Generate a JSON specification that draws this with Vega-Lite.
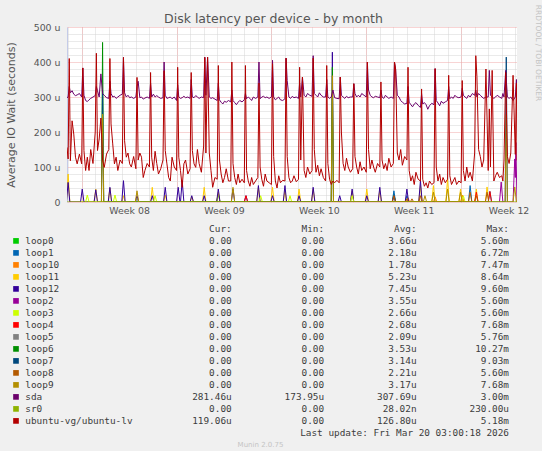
{
"$schema": "https://vega.github.io/schema/vega-lite/v6.json",
"background": "#f0f0f0",
"padding": {"left": 5, "top": 4, "right": 0, "bottom": 0},
"spacing": 0,
"config": {"view": {"stroke": null}, "font": "DejaVu Sans"},
"resolve": {"scale": {"x": "independent", "y": "independent", "color": "shared"}},
"datasets": {
"main": [
{"t":"2026-02-14T22:00Z","sda":298,"lv":156},
{"t":"2026-02-15T00:00Z","sda":300,"lv":123},{"t":"2026-02-15T02:00Z","sda":330,"lv":410},{"t":"2026-02-15T04:00Z","sda":312,"lv":118},{"t":"2026-02-15T07:00Z","sda":318,"lv":232},{"t":"2026-02-15T10:00Z","sda":308,"lv":194},{"t":"2026-02-15T13:00Z","sda":304,"lv":128},{"t":"2026-02-15T16:00Z","sda":306,"lv":109},{"t":"2026-02-15T20:00Z","sda":310,"lv":137},
{"t":"2026-02-16T00:00Z","sda":300,"lv":109},{"t":"2026-02-16T02:00Z","sda":383,"lv":383},{"t":"2026-02-16T04:00Z","sda":305,"lv":147},{"t":"2026-02-16T07:00Z","sda":290,"lv":90},{"t":"2026-02-16T10:00Z","sda":287,"lv":128},{"t":"2026-02-16T13:00Z","sda":292,"lv":90},{"t":"2026-02-16T16:00Z","sda":296,"lv":150},{"t":"2026-02-16T20:00Z","sda":300,"lv":110},
{"t":"2026-02-17T00:00Z","sda":304,"lv":200},{"t":"2026-02-17T02:00Z","sda":330,"lv":425},{"t":"2026-02-17T04:00Z","sda":318,"lv":147},{"t":"2026-02-17T07:00Z","sda":300,"lv":180},{"t":"2026-02-17T10:00Z","sda":366,"lv":240},{"t":"2026-02-17T13:00Z","sda":310,"lv":120},{"t":"2026-02-17T16:00Z","sda":305,"lv":99},{"t":"2026-02-17T20:00Z","sda":298,"lv":137},
{"t":"2026-02-18T00:00Z","sda":296,"lv":150},{"t":"2026-02-18T02:00Z","sda":345,"lv":410},{"t":"2026-02-18T04:00Z","sda":310,"lv":223},{"t":"2026-02-18T07:00Z","sda":300,"lv":166},{"t":"2026-02-18T10:00Z","sda":302,"lv":109},{"t":"2026-02-18T13:00Z","sda":296,"lv":128},{"t":"2026-02-18T16:00Z","sda":300,"lv":90},{"t":"2026-02-18T20:00Z","sda":305,"lv":120},
{"t":"2026-02-19T00:00Z","sda":308,"lv":110},{"t":"2026-02-19T02:00Z","sda":413,"lv":413},{"t":"2026-02-19T04:00Z","sda":312,"lv":175},{"t":"2026-02-19T07:00Z","sda":300,"lv":128},{"t":"2026-02-19T10:00Z","sda":305,"lv":140},{"t":"2026-02-19T13:00Z","sda":298,"lv":109},{"t":"2026-02-19T16:00Z","sda":300,"lv":100},{"t":"2026-02-19T20:00Z","sda":296,"lv":130},
{"t":"2026-02-20T00:00Z","sda":300,"lv":95},{"t":"2026-02-20T02:00Z","sda":330,"lv":356},{"t":"2026-02-20T04:00Z","sda":345,"lv":120},{"t":"2026-02-20T07:00Z","sda":298,"lv":140},{"t":"2026-02-20T10:00Z","sda":300,"lv":128},{"t":"2026-02-20T13:00Z","sda":294,"lv":70},{"t":"2026-02-20T16:00Z","sda":297,"lv":90},{"t":"2026-02-20T20:00Z","sda":300,"lv":110},
{"t":"2026-02-21T00:00Z","sda":296,"lv":100},{"t":"2026-02-21T02:00Z","sda":340,"lv":370},{"t":"2026-02-21T04:00Z","sda":300,"lv":128},{"t":"2026-02-21T07:00Z","sda":308,"lv":90},{"t":"2026-02-21T10:00Z","sda":300,"lv":145},{"t":"2026-02-21T13:00Z","sda":304,"lv":110},{"t":"2026-02-21T16:00Z","sda":300,"lv":80},{"t":"2026-02-21T20:00Z","sda":296,"lv":95},
{"t":"2026-02-22T00:00Z","sda":298,"lv":120},{"t":"2026-02-22T02:00Z","sda":400,"lv":375},{"t":"2026-02-22T04:00Z","sda":305,"lv":147},{"t":"2026-02-22T07:00Z","sda":296,"lv":109},{"t":"2026-02-22T10:00Z","sda":298,"lv":70},{"t":"2026-02-22T13:00Z","sda":300,"lv":60},{"t":"2026-02-22T16:00Z","sda":295,"lv":128},{"t":"2026-02-22T20:00Z","sda":300,"lv":100},
{"t":"2026-02-23T00:00Z","sda":290,"lv":90},{"t":"2026-02-23T02:00Z","sda":335,"lv":385},{"t":"2026-02-23T04:00Z","sda":300,"lv":128},{"t":"2026-02-23T07:00Z","sda":296,"lv":90},{"t":"2026-02-23T10:00Z","sda":298,"lv":42},{"t":"2026-02-23T13:00Z","sda":302,"lv":109},{"t":"2026-02-23T16:00Z","sda":298,"lv":120},{"t":"2026-02-23T20:00Z","sda":300,"lv":80},
{"t":"2026-02-24T00:00Z","sda":296,"lv":95},{"t":"2026-02-24T02:00Z","sda":350,"lv":370},{"t":"2026-02-24T04:00Z","sda":300,"lv":147},{"t":"2026-02-24T07:00Z","sda":298,"lv":109},{"t":"2026-02-24T10:00Z","sda":304,"lv":99},{"t":"2026-02-24T13:00Z","sda":300,"lv":150},{"t":"2026-02-24T16:00Z","sda":296,"lv":110},{"t":"2026-02-24T20:00Z","sda":300,"lv":85},
{"t":"2026-02-25T00:00Z","sda":298,"lv":160},{"t":"2026-02-25T02:00Z","sda":414,"lv":413},{"t":"2026-02-25T04:00Z","sda":305,"lv":140},{"t":"2026-02-25T07:00Z","sda":414,"lv":414},{"t":"2026-02-25T10:00Z","sda":300,"lv":140},{"t":"2026-02-25T13:00Z","sda":296,"lv":90},{"t":"2026-02-25T16:00Z","sda":298,"lv":42},{"t":"2026-02-25T20:00Z","sda":294,"lv":70},
{"t":"2026-02-26T00:00Z","sda":290,"lv":65},{"t":"2026-02-26T02:00Z","sda":340,"lv":390},{"t":"2026-02-26T04:00Z","sda":292,"lv":120},{"t":"2026-02-26T07:00Z","sda":285,"lv":80},{"t":"2026-02-26T10:00Z","sda":280,"lv":55},{"t":"2026-02-26T13:00Z","sda":288,"lv":70},{"t":"2026-02-26T16:00Z","sda":285,"lv":95},{"t":"2026-02-26T20:00Z","sda":290,"lv":60},
{"t":"2026-02-27T00:00Z","sda":286,"lv":60},{"t":"2026-02-27T02:00Z","sda":320,"lv":400},{"t":"2026-02-27T04:00Z","sda":290,"lv":110},{"t":"2026-02-27T07:00Z","sda":284,"lv":70},{"t":"2026-02-27T10:00Z","sda":278,"lv":50},{"t":"2026-02-27T13:00Z","sda":285,"lv":80},{"t":"2026-02-27T16:00Z","sda":290,"lv":55},{"t":"2026-02-27T20:00Z","sda":286,"lv":65},
{"t":"2026-02-28T00:00Z","sda":292,"lv":55},{"t":"2026-02-28T02:00Z","sda":310,"lv":390},{"t":"2026-02-28T04:00Z","sda":295,"lv":90},{"t":"2026-02-28T07:00Z","sda":300,"lv":60},{"t":"2026-02-28T10:00Z","sda":296,"lv":45},{"t":"2026-02-28T13:00Z","sda":290,"lv":70},{"t":"2026-02-28T16:00Z","sda":300,"lv":50},{"t":"2026-02-28T20:00Z","sda":296,"lv":60},
{"t":"2026-03-01T00:00Z","sda":300,"lv":70},{"t":"2026-03-01T02:00Z","sda":400,"lv":340},{"t":"2026-03-01T04:00Z","sda":295,"lv":100},{"t":"2026-03-01T07:00Z","sda":300,"lv":65},{"t":"2026-03-01T10:00Z","sda":302,"lv":45},{"t":"2026-03-01T13:00Z","sda":298,"lv":80},{"t":"2026-03-01T16:00Z","sda":300,"lv":60},{"t":"2026-03-01T20:00Z","sda":296,"lv":55},
{"t":"2026-03-02T00:00Z","sda":300,"lv":50},{"t":"2026-03-02T02:00Z","sda":405,"lv":395},{"t":"2026-03-02T04:00Z","sda":300,"lv":130},{"t":"2026-03-02T07:00Z","sda":292,"lv":60},{"t":"2026-03-02T10:00Z","sda":296,"lv":40},{"t":"2026-03-02T13:00Z","sda":300,"lv":75},{"t":"2026-03-02T16:00Z","sda":292,"lv":55},{"t":"2026-03-02T20:00Z","sda":290,"lv":62},
{"t":"2026-03-03T00:00Z","sda":295,"lv":60},{"t":"2026-03-03T02:00Z","sda":411,"lv":411},{"t":"2026-03-03T04:00Z","sda":347,"lv":130},{"t":"2026-03-03T07:00Z","sda":300,"lv":70},{"t":"2026-03-03T10:00Z","sda":296,"lv":55},{"t":"2026-03-03T13:00Z","sda":302,"lv":60},{"t":"2026-03-03T16:00Z","sda":298,"lv":75},{"t":"2026-03-03T20:00Z","sda":300,"lv":58},
{"t":"2026-03-04T00:00Z","sda":296,"lv":65},{"t":"2026-03-04T02:00Z","sda":340,"lv":385},{"t":"2026-03-04T04:00Z","sda":300,"lv":120},{"t":"2026-03-04T07:00Z","sda":357,"lv":357},{"t":"2026-03-04T10:00Z","sda":305,"lv":90},{"t":"2026-03-04T13:00Z","sda":300,"lv":70},{"t":"2026-03-04T16:00Z","sda":310,"lv":100},{"t":"2026-03-04T20:00Z","sda":305,"lv":80},
{"t":"2026-03-05T00:00Z","sda":302,"lv":90},{"t":"2026-03-05T02:00Z","sda":418,"lv":411},{"t":"2026-03-05T04:00Z","sda":310,"lv":150},{"t":"2026-03-05T07:00Z","sda":305,"lv":85},{"t":"2026-03-05T10:00Z","sda":300,"lv":105},{"t":"2026-03-05T13:00Z","sda":312,"lv":75},{"t":"2026-03-05T16:00Z","sda":305,"lv":95},{"t":"2026-03-05T20:00Z","sda":300,"lv":70},
{"t":"2026-03-06T00:00Z","sda":300,"lv":60},{"t":"2026-03-06T02:00Z","sda":350,"lv":390},{"t":"2026-03-06T04:00Z","sda":300,"lv":110},{"t":"2026-03-06T07:00Z","sda":296,"lv":65},{"t":"2026-03-06T10:00Z","sda":300,"lv":50},{"t":"2026-03-06T13:00Z","sda":320,"lv":60},{"t":"2026-03-06T16:00Z","sda":298,"lv":55},{"t":"2026-03-06T20:00Z","sda":296,"lv":62},
{"t":"2026-03-07T00:00Z","sda":295,"lv":55},{"t":"2026-03-07T02:00Z","sda":357,"lv":357},{"t":"2026-03-07T04:00Z","sda":305,"lv":200},{"t":"2026-03-07T07:00Z","sda":300,"lv":110},{"t":"2026-03-07T10:00Z","sda":296,"lv":90},{"t":"2026-03-07T13:00Z","sda":302,"lv":125},{"t":"2026-03-07T16:00Z","sda":298,"lv":100},{"t":"2026-03-07T20:00Z","sda":300,"lv":85},
{"t":"2026-03-08T00:00Z","sda":300,"lv":95},{"t":"2026-03-08T02:00Z","sda":338,"lv":338},{"t":"2026-03-08T04:00Z","sda":310,"lv":130},{"t":"2026-03-08T07:00Z","sda":300,"lv":100},{"t":"2026-03-08T10:00Z","sda":305,"lv":80},{"t":"2026-03-08T13:00Z","sda":300,"lv":115},{"t":"2026-03-08T16:00Z","sda":310,"lv":90},{"t":"2026-03-08T20:00Z","sda":305,"lv":100},
{"t":"2026-03-09T00:00Z","sda":300,"lv":85},{"t":"2026-03-09T02:00Z","sda":400,"lv":400},{"t":"2026-03-09T04:00Z","sda":320,"lv":150},{"t":"2026-03-09T07:00Z","sda":305,"lv":95},{"t":"2026-03-09T10:00Z","sda":300,"lv":120},{"t":"2026-03-09T13:00Z","sda":298,"lv":100},{"t":"2026-03-09T16:00Z","sda":302,"lv":85},{"t":"2026-03-09T20:00Z","sda":300,"lv":110},
{"t":"2026-03-10T00:00Z","sda":298,"lv":100},{"t":"2026-03-10T02:00Z","sda":320,"lv":343},{"t":"2026-03-10T04:00Z","sda":300,"lv":120},{"t":"2026-03-10T07:00Z","sda":296,"lv":95},{"t":"2026-03-10T10:00Z","sda":305,"lv":110},{"t":"2026-03-10T13:00Z","sda":300,"lv":90},{"t":"2026-03-10T16:00Z","sda":296,"lv":125},{"t":"2026-03-10T20:00Z","sda":300,"lv":100},
{"t":"2026-03-11T00:00Z","sda":296,"lv":110},{"t":"2026-03-11T02:00Z","sda":400,"lv":400},{"t":"2026-03-11T04:00Z","sda":380,"lv":380},{"t":"2026-03-11T07:00Z","sda":305,"lv":140},{"t":"2026-03-11T10:00Z","sda":300,"lv":120},{"t":"2026-03-11T13:00Z","sda":290,"lv":150},{"t":"2026-03-11T16:00Z","sda":285,"lv":105},{"t":"2026-03-11T20:00Z","sda":280,"lv":130},
{"t":"2026-03-12T00:00Z","sda":282,"lv":120},{"t":"2026-03-12T02:00Z","sda":330,"lv":385},{"t":"2026-03-12T04:00Z","sda":285,"lv":90},{"t":"2026-03-12T07:00Z","sda":278,"lv":60},{"t":"2026-03-12T10:00Z","sda":272,"lv":75},{"t":"2026-03-12T13:00Z","sda":280,"lv":50},{"t":"2026-03-12T16:00Z","sda":284,"lv":85},{"t":"2026-03-12T20:00Z","sda":276,"lv":65},
{"t":"2026-03-13T00:00Z","sda":270,"lv":60},{"t":"2026-03-13T02:00Z","sda":310,"lv":323},{"t":"2026-03-13T04:00Z","sda":280,"lv":65},{"t":"2026-03-13T07:00Z","sda":284,"lv":45},{"t":"2026-03-13T10:00Z","sda":278,"lv":55},{"t":"2026-03-13T13:00Z","sda":265,"lv":40},{"t":"2026-03-13T16:00Z","sda":275,"lv":60},{"t":"2026-03-13T20:00Z","sda":282,"lv":50},
{"t":"2026-03-14T00:00Z","sda":278,"lv":55},{"t":"2026-03-14T02:00Z","sda":381,"lv":381},{"t":"2026-03-14T04:00Z","sda":290,"lv":100},{"t":"2026-03-14T07:00Z","sda":283,"lv":60},{"t":"2026-03-14T10:00Z","sda":275,"lv":80},{"t":"2026-03-14T13:00Z","sda":288,"lv":50},{"t":"2026-03-14T16:00Z","sda":282,"lv":70},{"t":"2026-03-14T20:00Z","sda":286,"lv":55},
{"t":"2026-03-15T00:00Z","sda":290,"lv":65},{"t":"2026-03-15T02:00Z","sda":330,"lv":362},{"t":"2026-03-15T04:00Z","sda":295,"lv":75},{"t":"2026-03-15T07:00Z","sda":300,"lv":50},{"t":"2026-03-15T10:00Z","sda":296,"lv":60},{"t":"2026-03-15T13:00Z","sda":305,"lv":70},{"t":"2026-03-15T16:00Z","sda":300,"lv":50},{"t":"2026-03-15T20:00Z","sda":298,"lv":60},
{"t":"2026-03-16T00:00Z","sda":300,"lv":55},{"t":"2026-03-16T02:00Z","sda":325,"lv":347},{"t":"2026-03-16T04:00Z","sda":305,"lv":90},{"t":"2026-03-16T07:00Z","sda":300,"lv":60},{"t":"2026-03-16T10:00Z","sda":296,"lv":100},{"t":"2026-03-16T13:00Z","sda":305,"lv":70},{"t":"2026-03-16T16:00Z","sda":300,"lv":85},{"t":"2026-03-16T20:00Z","sda":310,"lv":60},
{"t":"2026-03-17T00:00Z","sda":305,"lv":140},{"t":"2026-03-17T02:00Z","sda":320,"lv":418},{"t":"2026-03-17T04:00Z","sda":300,"lv":358},{"t":"2026-03-17T07:00Z","sda":310,"lv":150},{"t":"2026-03-17T10:00Z","sda":305,"lv":130},{"t":"2026-03-17T13:00Z","sda":300,"lv":100},{"t":"2026-03-17T16:00Z","sda":296,"lv":120},{"t":"2026-03-17T20:00Z","sda":300,"lv":380},
{"t":"2026-03-18T00:00Z","sda":300,"lv":90},{"t":"2026-03-18T02:00Z","sda":376,"lv":266},{"t":"2026-03-18T04:00Z","sda":305,"lv":100},{"t":"2026-03-18T07:00Z","sda":300,"lv":376},{"t":"2026-03-18T10:00Z","sda":296,"lv":60},{"t":"2026-03-18T13:00Z","sda":300,"lv":75},{"t":"2026-03-18T16:00Z","sda":305,"lv":85},{"t":"2026-03-18T20:00Z","sda":300,"lv":70},
{"t":"2026-03-19T00:00Z","sda":296,"lv":75},{"t":"2026-03-19T02:00Z","sda":310,"lv":60},{"t":"2026-03-19T04:00Z","sda":300,"lv":120},{"t":"2026-03-19T07:00Z","sda":376,"lv":370},{"t":"2026-03-19T10:00Z","sda":300,"lv":130},{"t":"2026-03-19T13:00Z","sda":296,"lv":110},{"t":"2026-03-19T16:00Z","sda":300,"lv":140},{"t":"2026-03-19T20:00Z","sda":290,"lv":362},
{"t":"2026-03-20T00:00Z","sda":300,"lv":136},{"t":"2026-03-20T02:00Z","sda":350,"lv":340},{"t":"2026-03-20T03:00Z","sda":281,"lv":119}
],
"loops": [
{"d":"loop0","t":"2026-02-25T23:00Z","v":0},{"d":"loop0","t":"2026-02-26T02:00Z","v":23},{"d":"loop0","t":"2026-02-26T05:00Z","v":0},
{"d":"loop0","t":"2026-03-10T22:00Z","v":0},{"d":"loop0","t":"2026-03-11T01:00Z","v":23},{"d":"loop0","t":"2026-03-11T04:00Z","v":0},
{"d":"loop1","t":"2026-03-10T22:00Z","v":0},{"d":"loop1","t":"2026-03-11T01:00Z","v":32},{"d":"loop1","t":"2026-03-11T04:00Z","v":0},
{"d":"loop1","t":"2026-03-11T21:00Z","v":0},{"d":"loop1","t":"2026-03-12T00:00Z","v":18},{"d":"loop1","t":"2026-03-12T03:00Z","v":0},
{"d":"loop1","t":"2026-03-16T13:00Z","v":0},{"d":"loop1","t":"2026-03-16T16:00Z","v":47},{"d":"loop1","t":"2026-03-16T19:00Z","v":0},
{"d":"loop1","t":"2026-03-18T00:00Z","v":0},{"d":"loop1","t":"2026-03-18T03:00Z","v":30},{"d":"loop1","t":"2026-03-18T06:00Z","v":0},
{"d":"loop10","t":"2026-03-11T23:00Z","v":0},{"d":"loop10","t":"2026-03-12T02:00Z","v":12},{"d":"loop10","t":"2026-03-12T05:00Z","v":0},
{"d":"loop10","t":"2026-03-13T23:00Z","v":0},{"d":"loop10","t":"2026-03-14T02:00Z","v":15},{"d":"loop10","t":"2026-03-14T05:00Z","v":0},
{"d":"loop10","t":"2026-03-15T23:00Z","v":0},{"d":"loop10","t":"2026-03-16T02:00Z","v":20},{"d":"loop10","t":"2026-03-16T05:00Z","v":0},
{"d":"loop11","t":"2026-02-14T21:00Z","v":0},{"d":"loop11","t":"2026-02-15T00:00Z","v":80},{"d":"loop11","t":"2026-02-15T03:00Z","v":0},
{"d":"loop11","t":"2026-02-16T22:00Z","v":0},{"d":"loop11","t":"2026-02-17T01:00Z","v":37},{"d":"loop11","t":"2026-02-17T04:00Z","v":0},
{"d":"loop11","t":"2026-02-17T23:00Z","v":0},{"d":"loop11","t":"2026-02-18T02:00Z","v":40},{"d":"loop11","t":"2026-02-18T05:00Z","v":0},
{"d":"loop11","t":"2026-02-18T23:00Z","v":0},{"d":"loop11","t":"2026-02-19T02:00Z","v":18},{"d":"loop11","t":"2026-02-19T05:00Z","v":0},
{"d":"loop11","t":"2026-02-21T02:00Z","v":0},{"d":"loop11","t":"2026-02-21T05:00Z","v":42},{"d":"loop11","t":"2026-02-21T08:00Z","v":0},
{"d":"loop11","t":"2026-02-22T01:00Z","v":0},{"d":"loop11","t":"2026-02-22T04:00Z","v":20},{"d":"loop11","t":"2026-02-22T07:00Z","v":0},
{"d":"loop11","t":"2026-02-24T00:00Z","v":0},{"d":"loop11","t":"2026-02-24T03:00Z","v":15},{"d":"loop11","t":"2026-02-24T06:00Z","v":0},
{"d":"loop11","t":"2026-02-24T22:00Z","v":0},{"d":"loop11","t":"2026-02-25T01:00Z","v":42},{"d":"loop11","t":"2026-02-25T04:00Z","v":0},
{"d":"loop11","t":"2026-02-25T23:00Z","v":0},{"d":"loop11","t":"2026-02-26T02:00Z","v":28},{"d":"loop11","t":"2026-02-26T05:00Z","v":0},
{"d":"loop11","t":"2026-02-28T22:00Z","v":0},{"d":"loop11","t":"2026-03-01T01:00Z","v":42},{"d":"loop11","t":"2026-03-01T04:00Z","v":0},
{"d":"loop11","t":"2026-03-01T23:00Z","v":0},{"d":"loop11","t":"2026-03-02T02:00Z","v":42},{"d":"loop11","t":"2026-03-02T05:00Z","v":0},
{"d":"loop11","t":"2026-03-02T21:00Z","v":0},{"d":"loop11","t":"2026-03-03T00:00Z","v":32},{"d":"loop11","t":"2026-03-03T03:00Z","v":0},
{"d":"loop11","t":"2026-03-03T22:00Z","v":0},{"d":"loop11","t":"2026-03-04T01:00Z","v":37},{"d":"loop11","t":"2026-03-04T04:00Z","v":0},
{"d":"loop11","t":"2026-03-04T23:00Z","v":0},{"d":"loop11","t":"2026-03-05T02:00Z","v":37},{"d":"loop11","t":"2026-03-05T05:00Z","v":0},
{"d":"loop11","t":"2026-03-07T20:00Z","v":0},{"d":"loop11","t":"2026-03-07T23:00Z","v":32},{"d":"loop11","t":"2026-03-08T02:00Z","v":0},
{"d":"loop11","t":"2026-03-08T22:00Z","v":0},{"d":"loop11","t":"2026-03-09T01:00Z","v":37},{"d":"loop11","t":"2026-03-09T04:00Z","v":0},
{"d":"loop11","t":"2026-03-09T21:00Z","v":0},{"d":"loop11","t":"2026-03-10T00:00Z","v":32},{"d":"loop11","t":"2026-03-10T03:00Z","v":0},
{"d":"loop11","t":"2026-03-12T21:00Z","v":0},{"d":"loop11","t":"2026-03-13T00:00Z","v":47},{"d":"loop11","t":"2026-03-13T03:00Z","v":0},
{"d":"loop11","t":"2026-03-13T20:00Z","v":0},{"d":"loop11","t":"2026-03-13T23:00Z","v":47},{"d":"loop11","t":"2026-03-14T02:00Z","v":0},
{"d":"loop11","t":"2026-03-14T21:00Z","v":0},{"d":"loop11","t":"2026-03-15T00:00Z","v":66},{"d":"loop11","t":"2026-03-15T03:00Z","v":0},
{"d":"loop11","t":"2026-03-15T20:00Z","v":0},{"d":"loop11","t":"2026-03-15T23:00Z","v":37},{"d":"loop11","t":"2026-03-16T02:00Z","v":0},
{"d":"loop11","t":"2026-03-17T00:00Z","v":0},{"d":"loop11","t":"2026-03-17T03:00Z","v":37},{"d":"loop11","t":"2026-03-17T06:00Z","v":0},
{"d":"loop11","t":"2026-03-17T19:00Z","v":0},{"d":"loop11","t":"2026-03-17T22:00Z","v":43},{"d":"loop11","t":"2026-03-18T01:00Z","v":0},
{"d":"loop12","t":"2026-02-14T21:00Z","v":0},{"d":"loop12","t":"2026-02-15T00:00Z","v":56},{"d":"loop12","t":"2026-02-15T03:00Z","v":0},
{"d":"loop12","t":"2026-02-15T22:00Z","v":0},{"d":"loop12","t":"2026-02-16T01:00Z","v":37},{"d":"loop12","t":"2026-02-16T04:00Z","v":0},
{"d":"loop12","t":"2026-02-16T22:00Z","v":0},{"d":"loop12","t":"2026-02-17T01:00Z","v":35},{"d":"loop12","t":"2026-02-17T04:00Z","v":0},
{"d":"loop12","t":"2026-02-17T23:00Z","v":0},{"d":"loop12","t":"2026-02-18T02:00Z","v":42},{"d":"loop12","t":"2026-02-18T05:00Z","v":0},
{"d":"loop12","t":"2026-02-18T23:00Z","v":0},{"d":"loop12","t":"2026-02-19T02:00Z","v":61},{"d":"loop12","t":"2026-02-19T05:00Z","v":0},
{"d":"loop12","t":"2026-02-19T23:00Z","v":0},{"d":"loop12","t":"2026-02-20T02:00Z","v":18},{"d":"loop12","t":"2026-02-20T05:00Z","v":0},
{"d":"loop12","t":"2026-02-21T02:00Z","v":0},{"d":"loop12","t":"2026-02-21T05:00Z","v":18},{"d":"loop12","t":"2026-02-21T08:00Z","v":0},
{"d":"loop12","t":"2026-02-22T01:00Z","v":0},{"d":"loop12","t":"2026-02-22T04:00Z","v":42},{"d":"loop12","t":"2026-02-22T07:00Z","v":0},
{"d":"loop12","t":"2026-02-23T00:00Z","v":0},{"d":"loop12","t":"2026-02-23T03:00Z","v":42},{"d":"loop12","t":"2026-02-23T06:00Z","v":0},
{"d":"loop12","t":"2026-02-23T07:00Z","v":0},{"d":"loop12","t":"2026-02-23T10:00Z","v":61},{"d":"loop12","t":"2026-02-23T13:00Z","v":0},
{"d":"loop12","t":"2026-02-24T00:00Z","v":0},{"d":"loop12","t":"2026-02-24T03:00Z","v":18},{"d":"loop12","t":"2026-02-24T06:00Z","v":0},
{"d":"loop12","t":"2026-02-24T22:00Z","v":0},{"d":"loop12","t":"2026-02-25T01:00Z","v":18},{"d":"loop12","t":"2026-02-25T04:00Z","v":0},
{"d":"loop12","t":"2026-02-25T23:00Z","v":0},{"d":"loop12","t":"2026-02-26T02:00Z","v":37},{"d":"loop12","t":"2026-02-26T05:00Z","v":0},
{"d":"loop12","t":"2026-02-27T01:00Z","v":0},{"d":"loop12","t":"2026-02-27T04:00Z","v":37},{"d":"loop12","t":"2026-02-27T07:00Z","v":0},
{"d":"loop12","t":"2026-02-28T00:00Z","v":0},{"d":"loop12","t":"2026-02-28T03:00Z","v":18},{"d":"loop12","t":"2026-02-28T06:00Z","v":0},
{"d":"loop12","t":"2026-02-28T22:00Z","v":0},{"d":"loop12","t":"2026-03-01T01:00Z","v":47},{"d":"loop12","t":"2026-03-01T04:00Z","v":0},
{"d":"loop12","t":"2026-03-01T23:00Z","v":0},{"d":"loop12","t":"2026-03-02T02:00Z","v":18},{"d":"loop12","t":"2026-03-02T05:00Z","v":0},
{"d":"loop12","t":"2026-03-02T21:00Z","v":0},{"d":"loop12","t":"2026-03-03T00:00Z","v":47},{"d":"loop12","t":"2026-03-03T03:00Z","v":0},
{"d":"loop12","t":"2026-03-03T22:00Z","v":0},{"d":"loop12","t":"2026-03-04T01:00Z","v":18},{"d":"loop12","t":"2026-03-04T04:00Z","v":0},
{"d":"loop12","t":"2026-03-04T23:00Z","v":0},{"d":"loop12","t":"2026-03-05T02:00Z","v":42},{"d":"loop12","t":"2026-03-05T05:00Z","v":0},
{"d":"loop12","t":"2026-03-06T10:00Z","v":0},{"d":"loop12","t":"2026-03-06T12:00Z","v":428},{"d":"loop12","t":"2026-03-06T14:00Z","v":0},
{"d":"loop12","t":"2026-03-06T22:00Z","v":0},{"d":"loop12","t":"2026-03-07T01:00Z","v":18},{"d":"loop12","t":"2026-03-07T04:00Z","v":0},
{"d":"loop12","t":"2026-03-07T20:00Z","v":0},{"d":"loop12","t":"2026-03-07T23:00Z","v":37},{"d":"loop12","t":"2026-03-08T02:00Z","v":0},
{"d":"loop12","t":"2026-03-08T22:00Z","v":0},{"d":"loop12","t":"2026-03-09T01:00Z","v":18},{"d":"loop12","t":"2026-03-09T04:00Z","v":0},
{"d":"loop12","t":"2026-03-09T21:00Z","v":0},{"d":"loop12","t":"2026-03-10T00:00Z","v":42},{"d":"loop12","t":"2026-03-10T03:00Z","v":0},
{"d":"loop12","t":"2026-03-10T22:00Z","v":0},{"d":"loop12","t":"2026-03-11T01:00Z","v":18},{"d":"loop12","t":"2026-03-11T04:00Z","v":0},
{"d":"loop12","t":"2026-03-11T21:00Z","v":0},{"d":"loop12","t":"2026-03-12T00:00Z","v":37},{"d":"loop12","t":"2026-03-12T03:00Z","v":0},
{"d":"loop12","t":"2026-03-12T21:00Z","v":0},{"d":"loop12","t":"2026-03-13T00:00Z","v":61},{"d":"loop12","t":"2026-03-13T03:00Z","v":0},
{"d":"loop2","t":"2026-03-18T20:00Z","v":0},{"d":"loop2","t":"2026-03-18T23:00Z","v":57},{"d":"loop2","t":"2026-03-19T02:00Z","v":0},
{"d":"loop2","t":"2026-03-19T20:00Z","v":0},{"d":"loop2","t":"2026-03-19T23:00Z","v":123},{"d":"loop2","t":"2026-03-20T00:00Z","v":70},{"d":"loop2","t":"2026-03-20T01:00Z","v":170},{"d":"loop2","t":"2026-03-20T03:00Z","v":0},
{"d":"loop3","t":"2026-02-16T07:00Z","v":0},{"d":"loop3","t":"2026-02-16T10:00Z","v":20},{"d":"loop3","t":"2026-02-16T13:00Z","v":0},
{"d":"loop3","t":"2026-02-18T08:00Z","v":0},{"d":"loop3","t":"2026-02-18T11:00Z","v":20},{"d":"loop3","t":"2026-02-18T14:00Z","v":0},
{"d":"loop3","t":"2026-02-21T07:00Z","v":0},{"d":"loop3","t":"2026-02-21T10:00Z","v":18},{"d":"loop3","t":"2026-02-21T13:00Z","v":0},
{"d":"loop3","t":"2026-03-01T02:00Z","v":0},{"d":"loop3","t":"2026-03-01T05:00Z","v":18},{"d":"loop3","t":"2026-03-01T08:00Z","v":0},
{"d":"loop3","t":"2026-03-03T06:00Z","v":0},{"d":"loop3","t":"2026-03-03T09:00Z","v":18},{"d":"loop3","t":"2026-03-03T12:00Z","v":0},
{"d":"loop3","t":"2026-03-07T20:00Z","v":0},{"d":"loop3","t":"2026-03-07T23:00Z","v":18},{"d":"loop3","t":"2026-03-08T02:00Z","v":0},
{"d":"loop3","t":"2026-03-16T01:00Z","v":0},{"d":"loop3","t":"2026-03-16T04:00Z","v":18},{"d":"loop3","t":"2026-03-16T07:00Z","v":0},
{"d":"loop4","t":"2026-02-28T00:00Z","v":0},{"d":"loop4","t":"2026-02-28T03:00Z","v":18},{"d":"loop4","t":"2026-02-28T06:00Z","v":0},
{"d":"loop4","t":"2026-03-17T00:00Z","v":0},{"d":"loop4","t":"2026-03-17T03:00Z","v":28},{"d":"loop4","t":"2026-03-17T06:00Z","v":0},
{"d":"loop4","t":"2026-03-18T00:00Z","v":0},{"d":"loop4","t":"2026-03-18T03:00Z","v":30},{"d":"loop4","t":"2026-03-18T06:00Z","v":0},
{"d":"loop5","t":"2026-02-19T23:00Z","v":0},{"d":"loop5","t":"2026-02-20T02:00Z","v":10},{"d":"loop5","t":"2026-02-20T05:00Z","v":0},
{"d":"loop6","t":"2026-02-17T11:00Z","v":0},{"d":"loop6","t":"2026-02-17T13:00Z","v":456},{"d":"loop6","t":"2026-02-17T15:00Z","v":0},
{"d":"loop6","t":"2026-03-06T10:00Z","v":0},{"d":"loop6","t":"2026-03-06T12:00Z","v":385},{"d":"loop6","t":"2026-03-06T14:00Z","v":0},
{"d":"loop7","t":"2026-02-17T11:00Z","v":0},{"d":"loop7","t":"2026-02-17T13:00Z","v":318},{"d":"loop7","t":"2026-02-17T15:00Z","v":0},
{"d":"loop7","t":"2026-03-19T06:00Z","v":0},{"d":"loop7","t":"2026-03-19T08:00Z","v":414},{"d":"loop7","t":"2026-03-19T10:00Z","v":0},
{"d":"loop8","t":"2026-03-10T22:00Z","v":0},{"d":"loop8","t":"2026-03-11T01:00Z","v":18},{"d":"loop8","t":"2026-03-11T04:00Z","v":0},
{"d":"loop8","t":"2026-03-11T21:00Z","v":0},{"d":"loop8","t":"2026-03-12T00:00Z","v":9},{"d":"loop8","t":"2026-03-12T03:00Z","v":0},
{"d":"loop8","t":"2026-03-12T06:00Z","v":0},{"d":"loop8","t":"2026-03-12T09:00Z","v":9},{"d":"loop8","t":"2026-03-12T12:00Z","v":0},
{"d":"loop8","t":"2026-03-12T21:00Z","v":0},{"d":"loop8","t":"2026-03-13T00:00Z","v":18},{"d":"loop8","t":"2026-03-13T03:00Z","v":0},
{"d":"loop8","t":"2026-03-16T13:00Z","v":0},{"d":"loop8","t":"2026-03-16T16:00Z","v":28},{"d":"loop8","t":"2026-03-16T19:00Z","v":0},
{"d":"loop8","t":"2026-03-17T00:00Z","v":0},{"d":"loop8","t":"2026-03-17T03:00Z","v":18},{"d":"loop8","t":"2026-03-17T06:00Z","v":0},
{"d":"loop8","t":"2026-03-17T19:00Z","v":0},{"d":"loop8","t":"2026-03-17T22:00Z","v":28},{"d":"loop8","t":"2026-03-18T01:00Z","v":0},
{"d":"loop9","t":"2026-02-17T11:00Z","v":0},{"d":"loop9","t":"2026-02-17T13:00Z","v":251},{"d":"loop9","t":"2026-02-17T15:00Z","v":0},
{"d":"loop9","t":"2026-02-19T23:00Z","v":0},{"d":"loop9","t":"2026-02-20T02:00Z","v":32},{"d":"loop9","t":"2026-02-20T05:00Z","v":0},
{"d":"loop9","t":"2026-02-27T01:00Z","v":0},{"d":"loop9","t":"2026-02-27T04:00Z","v":42},{"d":"loop9","t":"2026-02-27T07:00Z","v":0},
{"d":"loop9","t":"2026-03-06T10:00Z","v":0},{"d":"loop9","t":"2026-03-06T12:00Z","v":361},{"d":"loop9","t":"2026-03-06T14:00Z","v":0},
{"d":"loop9","t":"2026-03-13T05:00Z","v":0},{"d":"loop9","t":"2026-03-13T08:00Z","v":18},{"d":"loop9","t":"2026-03-13T11:00Z","v":0},
{"d":"loop9","t":"2026-03-13T20:00Z","v":0},{"d":"loop9","t":"2026-03-13T23:00Z","v":28},{"d":"loop9","t":"2026-03-14T02:00Z","v":0},
{"d":"loop9","t":"2026-03-14T21:00Z","v":0},{"d":"loop9","t":"2026-03-15T00:00Z","v":37},{"d":"loop9","t":"2026-03-15T03:00Z","v":0},
{"d":"loop9","t":"2026-03-15T20:00Z","v":0},{"d":"loop9","t":"2026-03-15T23:00Z","v":28},{"d":"loop9","t":"2026-03-16T02:00Z","v":0},
{"d":"loop9","t":"2026-03-19T06:00Z","v":0},{"d":"loop9","t":"2026-03-19T08:00Z","v":250},{"d":"loop9","t":"2026-03-19T10:00Z","v":0},
{"d":"loop9","t":"2026-03-19T20:00Z","v":0},{"d":"loop9","t":"2026-03-19T23:00Z","v":43},{"d":"loop9","t":"2026-03-20T02:00Z","v":0},
{"d":"sr0","t":"2026-02-14T22:00Z","v":0},{"d":"sr0","t":"2026-03-20T03:00Z","v":0}
],
"devs": [
{"r":"loop0"},{"r":"loop1"},{"r":"loop10"},{"r":"loop11"},{"r":"loop12"},{"r":"loop2"},{"r":"loop3"},{"r":"loop4"},{"r":"loop5"},{"r":"loop6"},{"r":"loop7"},{"r":"loop8"},{"r":"loop9"},{"r":"sda"},{"r":"sr0"},{"r":"ubuntu-vg/ubuntu-lv"}
],
"tbl": [
{"r":"hdr","c":"cur","s":"Cur:\u00a0\u00a0"},{"r":"hdr","c":"min","s":"Min:\u00a0\u00a0"},{"r":"hdr","c":"avg","s":"Avg:\u00a0\u00a0"},{"r":"hdr","c":"max","s":"Max:\u00a0\u00a0"},
{"r":"loop0","c":"cur","s":"0.00\u00a0"},{"r":"loop0","c":"min","s":"0.00\u00a0"},{"r":"loop0","c":"avg","s":"3.66u"},{"r":"loop0","c":"max","s":"5.60m"},
{"r":"loop1","c":"cur","s":"0.00\u00a0"},{"r":"loop1","c":"min","s":"0.00\u00a0"},{"r":"loop1","c":"avg","s":"2.18u"},{"r":"loop1","c":"max","s":"6.72m"},
{"r":"loop10","c":"cur","s":"0.00\u00a0"},{"r":"loop10","c":"min","s":"0.00\u00a0"},{"r":"loop10","c":"avg","s":"1.78u"},{"r":"loop10","c":"max","s":"7.47m"},
{"r":"loop11","c":"cur","s":"0.00\u00a0"},{"r":"loop11","c":"min","s":"0.00\u00a0"},{"r":"loop11","c":"avg","s":"5.23u"},{"r":"loop11","c":"max","s":"8.64m"},
{"r":"loop12","c":"cur","s":"0.00\u00a0"},{"r":"loop12","c":"min","s":"0.00\u00a0"},{"r":"loop12","c":"avg","s":"7.45u"},{"r":"loop12","c":"max","s":"9.60m"},
{"r":"loop2","c":"cur","s":"0.00\u00a0"},{"r":"loop2","c":"min","s":"0.00\u00a0"},{"r":"loop2","c":"avg","s":"3.55u"},{"r":"loop2","c":"max","s":"5.60m"},
{"r":"loop3","c":"cur","s":"0.00\u00a0"},{"r":"loop3","c":"min","s":"0.00\u00a0"},{"r":"loop3","c":"avg","s":"2.66u"},{"r":"loop3","c":"max","s":"5.60m"},
{"r":"loop4","c":"cur","s":"0.00\u00a0"},{"r":"loop4","c":"min","s":"0.00\u00a0"},{"r":"loop4","c":"avg","s":"2.68u"},{"r":"loop4","c":"max","s":"7.68m"},
{"r":"loop5","c":"cur","s":"0.00\u00a0"},{"r":"loop5","c":"min","s":"0.00\u00a0"},{"r":"loop5","c":"avg","s":"2.09u"},{"r":"loop5","c":"max","s":"5.76m"},
{"r":"loop6","c":"cur","s":"0.00\u00a0"},{"r":"loop6","c":"min","s":"0.00\u00a0"},{"r":"loop6","c":"avg","s":"3.53u"},{"r":"loop6","c":"max","s":"10.27m"},
{"r":"loop7","c":"cur","s":"0.00\u00a0"},{"r":"loop7","c":"min","s":"0.00\u00a0"},{"r":"loop7","c":"avg","s":"3.14u"},{"r":"loop7","c":"max","s":"9.03m"},
{"r":"loop8","c":"cur","s":"0.00\u00a0"},{"r":"loop8","c":"min","s":"0.00\u00a0"},{"r":"loop8","c":"avg","s":"2.21u"},{"r":"loop8","c":"max","s":"5.60m"},
{"r":"loop9","c":"cur","s":"0.00\u00a0"},{"r":"loop9","c":"min","s":"0.00\u00a0"},{"r":"loop9","c":"avg","s":"3.17u"},{"r":"loop9","c":"max","s":"7.68m"},
{"r":"sda","c":"cur","s":"281.46u"},{"r":"sda","c":"min","s":"173.95u"},{"r":"sda","c":"avg","s":"307.69u"},{"r":"sda","c":"max","s":"3.00m"},
{"r":"sr0","c":"cur","s":"0.00\u00a0"},{"r":"sr0","c":"min","s":"0.00\u00a0"},{"r":"sr0","c":"avg","s":"28.02n"},{"r":"sr0","c":"max","s":"230.00u"},
{"r":"ubuntu-vg/ubuntu-lv","c":"cur","s":"119.06u"},{"r":"ubuntu-vg/ubuntu-lv","c":"min","s":"0.00\u00a0"},{"r":"ubuntu-vg/ubuntu-lv","c":"avg","s":"126.80u"},{"r":"ubuntu-vg/ubuntu-lv","c":"max","s":"5.18m"},
{"r":"upd","c":"max","s":"Last update: Fri Mar 20 03:00:18 2026"}
],
"ver": [{"r":"ver","s":"Munin 2.0.75"}]
},
"vconcat": [
{
"width": 450,
"height": 175,
"view": {"fill": "#ffffff", "stroke": null},
"resolve": {"axis": {"x": "independent", "y": "independent"}},
"layer": [
{
"data": {"name": "loops"},
"transform": [{"filter": "datum.d != 'sr0'"}],
"mark": {"type": "line", "strokeWidth": 1, "clip": true},
"encoding": {
"x": {"field": "t", "type": "temporal", "scale": {"type": "utc", "domain": [1771106400000, 1773975600000], "nice": false},
"axis": {"orient": "bottom", "tickCount": {"interval": "day", "step": 1}, "grid": true, "gridColor": "#d4d4d4", "gridDash": [1, 1], "labels": false, "ticks": false, "domain": false, "title": null}},
"y": {"field": "v", "type": "quantitative", "scale": {"domain": [0, 500], "nice": false},
"axis": {"orient": "left", "values": [20,40,60,80,120,140,160,180,220,240,260,280,320,340,360,380,420,440,460,480], "grid": true, "gridColor": "#d4d4d4", "gridDash": [1, 1], "labels": false, "ticks": false, "domain": false, "title": null}},
"color": {"field": "d", "type": "nominal", "legend": null,
"scale": {"domain": ["loop0","loop1","loop10","loop11","loop12","loop2","loop3","loop4","loop5","loop6","loop7","loop8","loop9","sda","sr0","ubuntu-vg/ubuntu-lv"],
"range": ["#00CC00","#0066B3","#FF8000","#FFCC00","#330099","#990099","#CCFF00","#FF0000","#808080","#008F00","#00487D","#B35A00","#B38F00","#6B006B","#8FB300","#B30000"]}}
}
},
{
"data": {"name": "main"},
"mark": {"type": "line", "strokeWidth": 1, "clip": true},
"encoding": {
"x": {"field": "t", "type": "temporal",
"axis": {"orient": "bottom", "values": [1771200000000, 1771804800000, 1772409600000, 1773014400000, 1773619200000], "grid": true, "gridColor": "#f0a8a8", "gridDash": [1, 1], "labels": false, "ticks": false, "domain": false, "title": null}},
"y": {"field": "sda", "type": "quantitative",
"axis": {"orient": "left", "values": [0, 100, 200, 300, 400, 500], "grid": true, "gridColor": "#f0a8a8", "gridDash": [1, 1], "ticks": false, "domain": true, "domainColor": "#c4cbe8", "labelPadding": 7, "labelFontSize": 9.4, "labelColor": "#555555", "labelFont": "DejaVu Sans", "labelExpr": "datum.value == 0 ? '0' : datum.value + ' u'", "labelFlush": false, "labelOverlap": false, "title": "Average IO Wait (seconds)", "titleFont": "DejaVu Sans", "titleFontSize": 11, "titleFontWeight": "normal", "titleColor": "#555555", "titleX": -56, "titleY": 87.5, "titleAngle": 270, "titleAlign": "center", "titleBaseline": "middle"}},
"color": {"datum": "sda", "type": "nominal", "legend": null}
}
},
{
"data": {"name": "loops"},
"transform": [{"filter": "datum.d == 'sr0'"}],
"mark": {"type": "line", "strokeWidth": 1, "clip": true},
"encoding": {
"x": {"field": "t", "type": "temporal",
"axis": {"orient": "top", "grid": false, "labels": false, "ticks": false, "domain": false, "title": "Disk latency per device - by month", "titleFont": "DejaVu Sans", "titleFontSize": 12.5, "titleFontWeight": "normal", "titleColor": "#555555", "titleX": 206, "titleY": -4.5, "titleAlign": "center", "titleBaseline": "alphabetic", "titleAngle": 0}},
"y": {"field": "v", "type": "quantitative",
"axis": {"orient": "right", "grid": false, "labels": false, "ticks": false, "domain": false, "title": "RRDTOOL / TOBI OETIKER", "titleFont": "DejaVu Sans", "titleFontSize": 7.5, "titleFontWeight": "normal", "titleColor": "#c4c4c4", "titleX": 20.5, "titleY": 25.5, "titleAngle": 90, "titleAlign": "center", "titleBaseline": "middle"}},
"color": {"field": "d", "type": "nominal", "legend": null}
}
},
{
"data": {"name": "main"},
"mark": {"type": "line", "strokeWidth": 1, "clip": true},
"encoding": {
"x": {"field": "t", "type": "temporal",
"axis": {"orient": "bottom", "values": [1771502400000, 1772107200000, 1772712000000, 1773316800000, 1773921600000], "labelExpr": "'Week ' + utcFormat(datum.value, '%V')", "grid": false, "ticks": false, "domain": false, "labelPadding": 4, "labelFontSize": 9.4, "labelColor": "#555555", "labelFont": "DejaVu Sans", "labelFlush": false, "labelOverlap": false, "labelBound": false, "title": null}},
"y": {"field": "lv", "type": "quantitative", "axis": null},
"color": {"datum": "ubuntu-vg/ubuntu-lv", "type": "nominal", "legend": null}
}
}
]
},
{
"width": 450,
"height": 236,
"resolve": {"scale": {"x": "independent"}},
"layer": [
{
"data": {"name": "devs"},
"mark": {"type": "square", "filled": true, "size": 32, "opacity": 1},
"encoding": {
"x": {"datum": "sw", "type": "nominal", "scale": {"type": "point", "domain": ["sw", "nm"], "range": [-51, -41.7], "padding": 0}, "axis": null},
"y": {"field": "r", "type": "nominal", "axis": null,
"scale": {"type": "point", "padding": 0, "domain": ["hdr","loop0","loop1","loop10","loop11","loop12","loop2","loop3","loop4","loop5","loop6","loop7","loop8","loop9","sda","sr0","ubuntu-vg/ubuntu-lv","upd","ver"], "range": [13.9, 229.9]}},
"color": {"field": "r", "type": "nominal", "legend": null}
}
},
{
"data": {"name": "devs"},
"mark": {"type": "text", "align": "left", "baseline": "middle", "font": "DejaVu Sans Mono", "fontSize": 9.4, "color": "#3c3c3c"},
"encoding": {
"x": {"datum": "nm", "type": "nominal", "scale": {"type": "point", "domain": ["sw", "nm"], "range": [-51, -41.7], "padding": 0}, "axis": null},
"y": {"field": "r", "type": "nominal", "axis": null},
"text": {"field": "r"}
}
},
{
"data": {"name": "tbl"},
"mark": {"type": "text", "align": "right", "baseline": "middle", "font": "DejaVu Sans Mono", "fontSize": 9.4, "color": "#3c3c3c"},
"encoding": {
"x": {"field": "c", "type": "nominal", "scale": {"type": "point", "domain": ["cur", "min", "avg", "max"], "range": [164.7, 442], "padding": 0}, "axis": null},
"y": {"field": "r", "type": "nominal", "axis": null},
"text": {"field": "s"}
}
},
{
"data": {"name": "ver"},
"mark": {"type": "text", "align": "center", "baseline": "middle", "font": "DejaVu Sans", "fontSize": 7, "color": "#c4c4c4"},
"encoding": {
"x": {"datum": "ver", "type": "nominal", "scale": {"type": "point", "domain": ["ver"], "range": [0, 387], "padding": 0}, "axis": null},
"y": {"field": "r", "type": "nominal", "axis": null},
"text": {"field": "s"}
}
}
]
}
]
}
